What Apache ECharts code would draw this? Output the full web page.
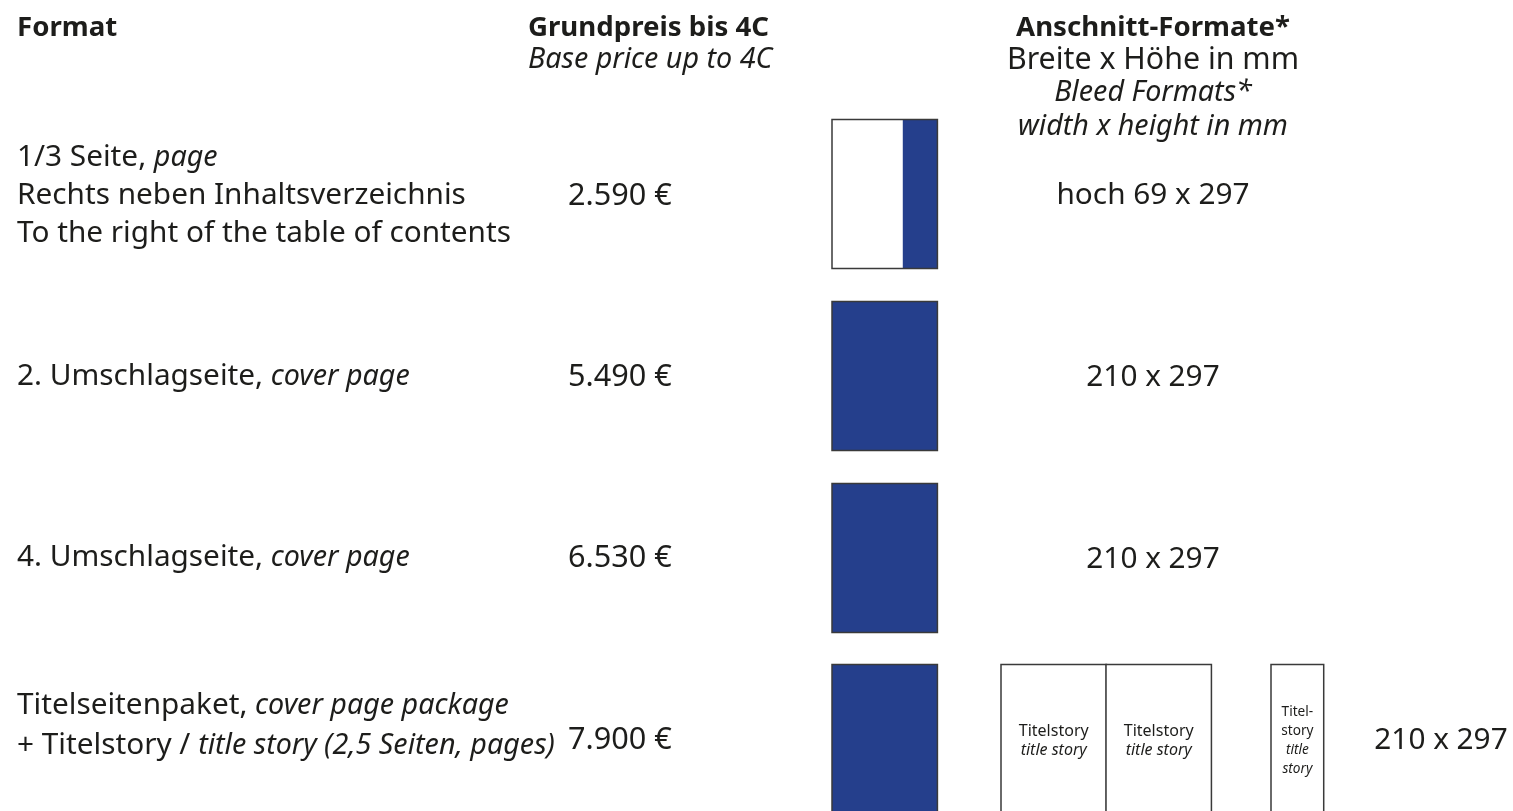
<!DOCTYPE html>
<html>
<head>
<meta charset="utf-8">
<script src="https://cdn.jsdelivr.net/npm/echarts@6/dist/echarts.min.js"></script>
<style>
html,body{margin:0;padding:0;background:#fff;}
#c{width:1513px;height:811px;}
</style>
</head>
<body>
<div id="c"></div>
<script>
// ---------- data ----------
const formatLines = [
  ['1/3 Seite, {i|page}', 'Rechts neben Inhaltsverzeichnis', 'To the right of the table of contents'],
  ['2. Umschlagseite, {i|cover page}'],
  ['4. Umschlagseite, {i|cover page}'],
  ['Titelseitenpaket, {i|cover page package}', '+ Titelstory / {i|title story (2,5 Seiten, pages)}']
];
const prices = [2590, 5490, 6530, 7900];
const bleedPrefix = ['hoch ', '', '', ''];
const bleedWidthMm = [69, 210, 210, 210];
const bleedHeightMm = [297, 297, 297, 297];
const storyPages = [0, 0, 0, 2.5];
const headerFormat = 'Format';
const headerPrice = ['Grundpreis bis 4C', 'Base price up to 4C'];
const headerBleed = ['Anschnitt-Formate*', 'Breite x Höhe in mm', 'Bleed Formats*', 'width x height in mm'];
const storyLabel = ['Titelstory', 'title story'];
const storyLabelNarrow = ['Titel-', 'story', 'title', 'story'];

// ---------- layout ----------
const W = 1513, H = 811;
const PAGE_MM = 210;
const MM = 0.502;
const X_TEXT = 17, X_PRICE = 568, X_PAGE = 832, X_BLEED = 1153, X_BLEED_LAST = 1441;
const ROW_Y = [194, 376, 558, 739];
const TEXT_DY = [2, 1, 0, -13];
const LINE_GAP = [38, 38, 38, 40];
const STORY_X = [1001, 1106, 1271];
const BLUE = '#253F8C';
const INK = '#1d1d1b';
const FONT = '"Noto Sans", "DejaVu Sans", sans-serif';

function fitSize(str, target, style) {
  const ctx = document.createElement('canvas').getContext('2d');
  ctx.font = (style || 'normal') + ' 100px ' + FONT;
  return 100 * target / ctx.measureText(str).width;
}
const FS = fitSize('To the right of the table of contents', 494);
const FS_B = fitSize('Anschnitt-Formate*', 274, 'bold');
const FS_I = fitSize('width x height in mm', 270, 'italic');
const FS_SMALL = fitSize('Titelstory', 70);
const FS_TINY = FS_SMALL * 0.85;
const FS_PRICE = FS * 1.03;

function fmtPrice(v) {
  return String(v).replace(/\B(?=(\d{3})+(?!\d))/g, '.') + ' €';
}

const richI = { i: { fontStyle: 'italic', fontSize: FS_I, fontFamily: FONT, fill: INK } };

function txt(x, y, text, opt) {
  return {
    type: 'text',
    style: Object.assign({
      x: x, y: y, text: text, fill: INK, fontSize: FS, fontFamily: FONT,
      verticalAlign: 'middle', align: 'left', rich: richI
    }, opt || {})
  };
}

function renderItem(params, api) {
  const i = api.value(0);
  const cy = ROW_Y[i];
  const ch = [];
  // format text lines
  const lines = formatLines[i];
  const tcy = cy + TEXT_DY[i];
  lines.forEach(function (l, k) {
    const p = api.coord([X_TEXT, tcy + (k - (lines.length - 1) / 2) * LINE_GAP[i]]);
    ch.push(txt(p[0], p[1], l));
  });
  // price
  const pp = api.coord([X_PRICE, cy + (i === 3 ? 1 : TEXT_DY[i])]);
  ch.push(txt(pp[0], pp[1], fmtPrice(api.value(1)), { fontSize: FS_PRICE }));
  // page thumbnail
  const ph = bleedHeightMm[i] * MM;
  const top = cy - ph / 2;
  const tl = api.coord([X_PAGE, top]);
  const fullSize = api.size([PAGE_MM * MM, ph]);
  const bw = bleedWidthMm[i] * MM;
  if (bleedWidthMm[i] < PAGE_MM) {
    ch.push({ type: 'rect', shape: { x: tl[0], y: tl[1], width: fullSize[0], height: fullSize[1] },
      style: { fill: '#fff', stroke: 'none' } });
    const bl = api.coord([X_PAGE + PAGE_MM * MM - bw, top]);
    const bs = api.size([bw, ph]);
    ch.push({ type: 'rect', shape: { x: bl[0], y: bl[1], width: bs[0], height: bs[1] },
      style: { fill: BLUE } });
  } else {
    ch.push({ type: 'rect', shape: { x: tl[0], y: tl[1], width: fullSize[0], height: fullSize[1] },
      style: { fill: BLUE } });
  }
  ch.push({ type: 'rect', shape: { x: tl[0], y: tl[1], width: fullSize[0], height: fullSize[1] },
    style: { fill: 'none', stroke: '#3a3a3a', lineWidth: 1.5 } });
  // title story pages
  let rem = storyPages[i];
  let k = 0;
  while (rem > 0) {
    const frac = Math.min(1, rem);
    const sw = PAGE_MM * MM * frac;
    const sp = api.coord([STORY_X[k], top]);
    const ss = api.size([sw, ph]);
    ch.push({ type: 'rect', shape: { x: sp[0], y: sp[1], width: ss[0], height: ss[1] },
      style: { fill: '#fff', stroke: '#3a3a3a', lineWidth: 1.5 } });
    const cx = STORY_X[k] + sw / 2;
    if (frac === 1) {
      storyLabel.forEach(function (s, j) {
        const c = api.coord([cx, 731 + j * 19 - (739 - cy)]);
        ch.push(txt(c[0], c[1], s, { align: 'center', fontSize: FS_SMALL, fontStyle: j === 1 ? 'italic' : 'normal' }));
      });
    } else {
      storyLabelNarrow.forEach(function (s, j) {
        const c = api.coord([cx, 712 + j * 19 - (739 - cy)]);
        ch.push(txt(c[0], c[1], s, { align: 'center', fontSize: FS_TINY, fontStyle: j >= 2 ? 'italic' : 'normal' }));
      });
    }
    rem -= frac;
    k++;
  }
  // bleed label
  const bx = storyPages[i] > 0 ? X_BLEED_LAST : X_BLEED;
  const bp = api.coord([bx, cy + 2]);
  ch.push(txt(bp[0], bp[1], bleedPrefix[i] + bleedWidthMm[i] + ' x ' + bleedHeightMm[i], { align: 'center' }));
  return { type: 'group', children: ch };
}

const chart = echarts.init(document.getElementById('c'), null, { renderer: 'canvas' });
const headerStyle = function (x, y, text, extra) {
  return { type: 'text', x: x, y: y, style: Object.assign({ text: text, fill: INK, fontSize: FS, fontFamily: FONT, verticalAlign: 'middle' }, extra) };
};
chart.setOption({
  animation: false,
  backgroundColor: '#fff',
  grid: { left: 0, right: 0, top: 0, bottom: 0 },
  xAxis: { type: 'value', min: 0, max: W, show: false },
  yAxis: { type: 'value', min: 0, max: H, inverse: true, show: false },
  graphic: [
    headerStyle(X_TEXT, 28, headerFormat, { fontWeight: 'bold', fontSize: FS_B, align: 'left' }),
    headerStyle(528, 28, headerPrice[0], { fontWeight: 'bold', fontSize: FS_B, align: 'left' }),
    headerStyle(528, 60, headerPrice[1], { fontStyle: 'italic', fontSize: FS_I, align: 'left' }),
    headerStyle(X_BLEED, 28, headerBleed[0], { fontWeight: 'bold', fontSize: FS_B, align: 'center' }),
    headerStyle(X_BLEED, 60, headerBleed[1], { fontSize: FS * 1.02, align: 'center' }),
    headerStyle(X_BLEED, 93, headerBleed[2], { fontStyle: 'italic', fontSize: FS_I, align: 'center' }),
    headerStyle(X_BLEED, 127, headerBleed[3], { fontStyle: 'italic', fontSize: FS_I, align: 'center' })
  ],
  series: [{
    type: 'custom',
    renderItem: renderItem,
    clip: false,
    data: prices.map(function (p, i) { return [i, p]; })
  }]
});
</script>
</body>
</html>
